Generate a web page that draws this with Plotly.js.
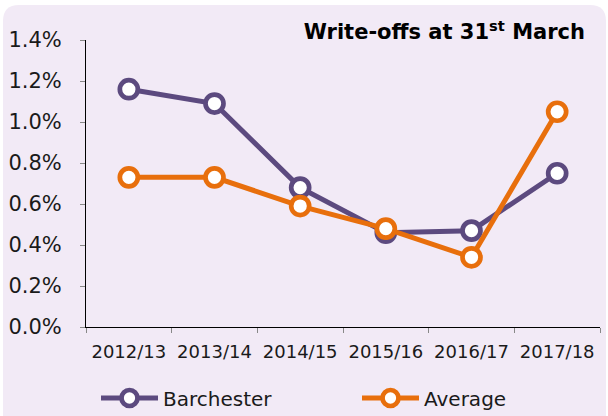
<!DOCTYPE html>
<html>
<head>
<meta charset="utf-8">
<script src="https://cdn.plot.ly/plotly-3.0.1.min.js"></script>
<style>html,body{margin:0;padding:0;background:#fff;}#chart{width:608px;height:416px;}</style>
</head>
<body>
<div id="chart"></div>
<script>
const categories = ['2012/13','2013/14','2014/15','2015/16','2016/17','2017/18'];
const barchester = [1.16, 1.09, 0.68, 0.46, 0.47, 0.75];
const average = [0.73, 0.73, 0.59, 0.48, 0.34, 1.05];
const yTicks = [0, 0.2, 0.4, 0.6, 0.8, 1.0, 1.2, 1.4];

const W = 608, H = 416, L = 86, R = 8, T = 40, B = 89;
const pw = W - L - R, ph = H - T - B;
const px = x => (x - L) / pw;
const py = y => (H - B - y) / ph;
// rounded panel background
const x0 = 3, x1 = 606, y0 = 5, y1 = 420, r = 16;
const path = `M${px(x0)},${py(y1)} L${px(x0)},${py(y0 + r)} Q${px(x0)},${py(y0)} ${px(x0 + r)},${py(y0)} ` +
  `L${px(x1 - r)},${py(y0)} Q${px(x1)},${py(y0)} ${px(x1)},${py(y0 + r)} L${px(x1)},${py(y1)} Z`;

const font = 'DejaVu Sans, Verdana, sans-serif';
const purple = '#5C4A7F';
const orange = '#E86F0C';

const traces = [
  {x: categories, y: barchester, name: 'Barchester', type: 'scatter', mode: 'lines+markers', legend: 'legend',
   line: {color: purple, width: 5},
   marker: {symbol: 'circle', size: 18, color: '#ffffff', line: {color: purple, width: 4.7}}},
  {x: categories, y: average, name: 'Average', type: 'scatter', mode: 'lines+markers', legend: 'legend2',
   line: {color: orange, width: 5},
   marker: {symbol: 'circle', size: 18, color: '#ffffff', line: {color: orange, width: 4.7}}}
];

const legendBase = {orientation: 'h', xanchor: 'left', y: py(398), yanchor: 'middle',
  font: {family: font, size: 20, color: '#1a1a1a'}, bgcolor: 'rgba(0,0,0,0)', itemwidth: 57};

const layout = {
  width: W, height: H,
  margin: {l: L, r: R, t: T, b: B, pad: 0, autoexpand: false},
  paper_bgcolor: '#ffffff', plot_bgcolor: 'rgba(0,0,0,0)',
  font: {family: font, color: '#1a1a1a', size: 17},
  showlegend: true,
  xaxis: {type: 'category', range: [-0.5, 5.5], showline: true, linecolor: '#000', linewidth: 1,
    ticks: 'outside', tickson: 'boundaries', ticklen: 5, tickcolor: '#888', showgrid: false,
    tickfont: {family: font, size: 18, color: '#1a1a1a'}, zeroline: false, automargin: false,
    ticklabelstandoff: 8},
  yaxis: {range: [0, 1.4], tickvals: yTicks, ticktext: yTicks.map(v => v.toFixed(1) + '%'),
    showline: true, linecolor: '#000', linewidth: 1, ticks: 'outside', ticklen: 5, tickcolor: '#888',
    showgrid: false, zeroline: false, tickfont: {family: font, size: 21, color: '#1a1a1a'},
    ticklabelstandoff: 14, automargin: false},
  title: {text: '<b>Write-offs at 31<sup>st</sup> March</b>', xref: 'container', x: 585 / W, xanchor: 'right',
    yref: 'container', y: 1 - 32 / H, yanchor: 'middle', font: {family: font, size: 21, color: '#000'}},
  legend: Object.assign({}, legendBase, {x: px(96)}),
  legend2: Object.assign({}, legendBase, {x: px(357)}),
  shapes: [{type: 'path', xref: 'paper', yref: 'paper', path: path, fillcolor: '#F2EAF6', line: {width: 0}, layer: 'below'}]
};

Plotly.newPlot('chart', traces, layout, {displayModeBar: false, staticPlot: true});
</script>
</body>
</html>
